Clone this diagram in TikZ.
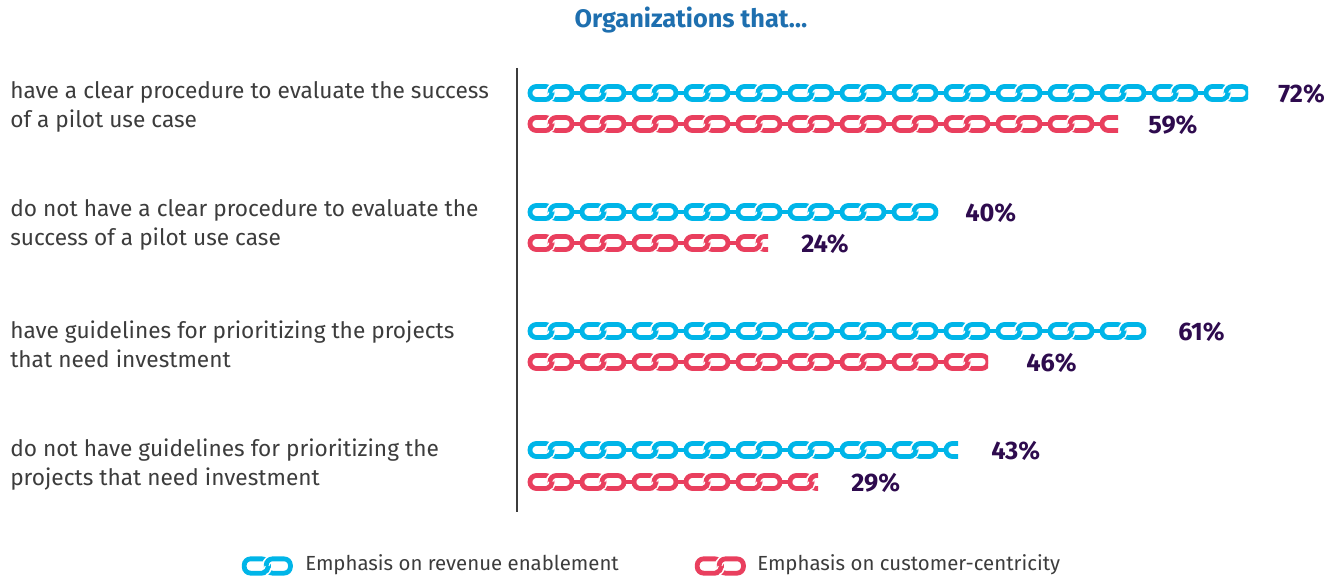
\documentclass[tikz,border=0pt]{standalone}
\usepackage{fontspec}
\setmainfont{Fira Sans}
\definecolor{revblue}{HTML}{00B5E8}
\definecolor{custred}{HTML}{E93F5E}
\definecolor{pctpurple}{HTML}{2E0B4E}
\definecolor{titleblue}{HTML}{1E6FAF}
\definecolor{labelgray}{HTML}{3C3C3C}

\tikzset{
  linkline/.style={line width=3.6pt},
  linkgap/.style={white, line width=5.8pt},
  rowlabel/.style={anchor=west, align=left, inner sep=0pt, text=labelgray,
    font=\fontsize{17}{21.75}\selectfont},
  pctlabel/.style={anchor=west, inner sep=0pt, text=pctpurple,
    font=\fontsize{19}{22}\selectfont\bfseries},
  legendtext/.style={anchor=west, inner sep=0pt, text=labelgray,
    font=\fontsize{15.3}{18}\selectfont}
}

% two interlocked links, drawn at (x,y) in the given colour
\newcommand{\chainpair}[3]{%
  \begin{scope}[shift={(#1,#2)}]
    \draw[#3, linkline, rounded corners=4.8pt] (2,-6.5) rectangle (24,6.5);
    \draw[linkgap] (28,-6.5) arc[start angle=-90, end angle=-175, radius=6.5];
    \draw[#3, linkline, rounded corners=4.8pt] (22,-6.5) rectangle (44,6.5);
    \draw[linkgap] (17.5,0) ++(10:6.5) arc[start angle=10, end angle=65, radius=6.5];
    \draw[#3, linkline] (17.5,0) ++(0:6.5) arc[start angle=0, end angle=75, radius=6.5];
  \end{scope}}
% a pair of links with the bar to the next pair
\newcommand{\chainunit}[3]{%
  \chainpair{#1}{#2}{#3}
  \begin{scope}[shift={(#1,#2)}]
    \draw[#3, line width=2.6pt] (44,0) -- (54,0);
  \end{scope}}

\begin{document}
\begin{tikzpicture}[x=0.75pt,y=-0.75pt]
    \useasboundingbox (0,0) rectangle (1338,580);

    % Title
    \node[text=titleblue, font=\fontsize{19}{22}\selectfont\bfseries] (title) at (691,20) {Organizations that\ldots};

    % Draw the axis
    \coordinate (axistop) at (517,68);
    \coordinate (axisbottom) at (517,512);
    \draw[labelgray, line width=0.9pt] (axistop) -- (axisbottom);

    % Draw the row labels
    \node[rowlabel] (lab1) at (10,107) {have a clear procedure to evaluate the success\\of a pilot use case};
    \node[rowlabel] (lab2) at (10,225) {do not have a clear procedure to evaluate the\\success of a pilot use case};
    \node[rowlabel] (lab3) at (10,344.5) {have guidelines for prioritizing the projects\\that need investment};
    \node[rowlabel] (lab4) at (10,465) {do not have guidelines for prioritizing the\\projects that need investment};

    % Draw the chains and their values
    \foreach \y/\v/\c/\e/\t/\n in {93/72/revblue/1248/1278/b1, 124/59/custred/1118/1148/r1,
                                   212/40/revblue/938/965/b2, 243/24/custred/768/801/r2,
                                   331/61/revblue/1146/1178/b3, 362/46/custred/988/1026/r3,
                                   450/43/revblue/958/991/b4, 482/29/custred/818/851/r4} {
        \begin{scope}
            \clip (524,\y-12) rectangle (\e,\y+12);
            \foreach \k [evaluate=\k as \px using 528+52*\k] in {0,...,14} {
                \chainunit{\px}{\y}{\c}
            }
        \end{scope}
        \node[pctlabel] (\n) at (\t,\y+1) {\v\%};
    }

    % Legend
    \begin{scope}[shift={(242,566)}, scale=1.1]
        \chainpair{0}{0}{revblue}
    \end{scope}
    \node[legendtext] (legrev) at (305,565) {Emphasis on revenue enablement};
    \begin{scope}[shift={(695,566)}, scale=1.1]
        \chainpair{0}{0}{custred}
    \end{scope}
    \node[legendtext] (legcust) at (757,565) {Emphasis on customer-centricity};
\end{tikzpicture}
\end{document}
